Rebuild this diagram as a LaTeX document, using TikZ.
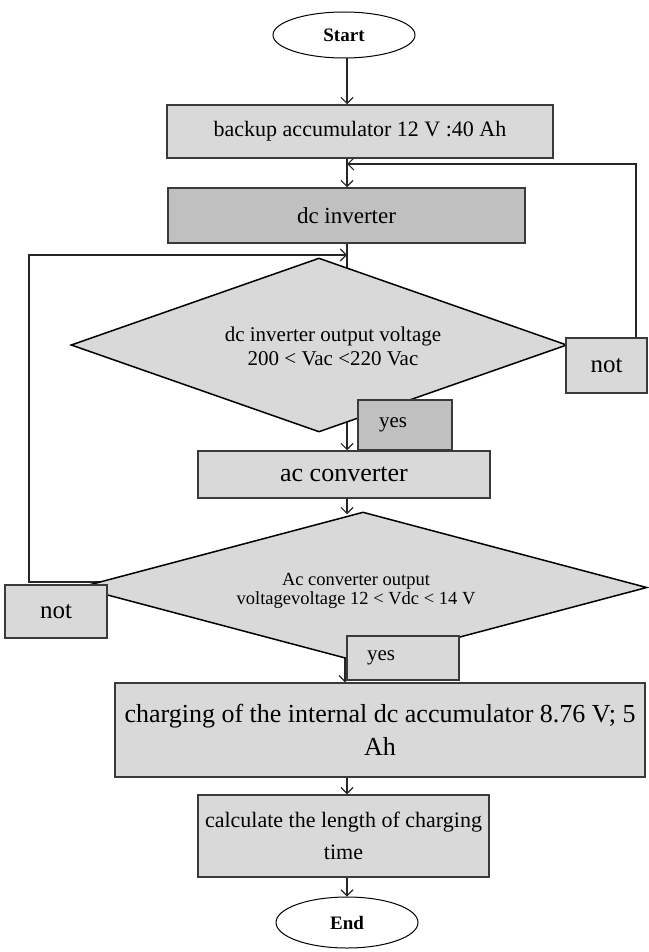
\documentclass[tikz,border=0pt]{standalone}
\usepackage{fontspec}
\setmainfont{Liberation Serif}
\usetikzlibrary{shapes.geometric,arrows.meta,calc}
\pgfdeclarelayer{bg}
\pgfsetlayers{bg,main}
\definecolor{lightg}{HTML}{D9D9D9}
\definecolor{darkg}{HTML}{C0C0C0}
\definecolor{edgec}{HTML}{3A3A3A}
\begin{document}
\begin{tikzpicture}[x=1pt,y=-1pt,
  box/.style={draw=edgec, line width=1.5pt, fill=lightg, rectangle, inner sep=0pt, align=center},
  dbox/.style={box, fill=darkg},
  dia/.style={draw=black, line width=1.5pt, fill=lightg, diamond, inner sep=0pt},
  term/.style={draw=black, line width=1pt, ellipse, fill=white, inner sep=0pt},
  arr/.style={draw=black!85, line width=1.1pt, -{Straight Barb[length=6pt,width=12pt]}},
  conn/.style={draw=black!85, line width=1.1pt},
  lab/.style={inner sep=0pt, align=center}]
\useasboundingbox (0,0) rectangle (648,952);
\coordinate (ax) at (347,0);
\coordinate (ax2) at (345,0);
\coordinate (fbR) at (636,164);
\coordinate (lpB) at (29,582);
\coordinate (lpT) at (29,255);

\node[term, minimum width=142pt, minimum height=46pt, font=\fontsize{19}{22}\selectfont\bfseries] (start) at (344,35) {Start};
\node[box, minimum width=386pt, minimum height=53pt, font=\fontsize{22}{26}\selectfont] (backup) at (360,131.5) {backup accumulator 12 V :40 Ah};
\node[dbox, minimum width=357pt, minimum height=55pt, font=\fontsize{23}{27}\selectfont] (dcinv) at (346.5,215.5) {dc inverter};
\node[dia, minimum width=496pt, minimum height=174pt] (d1) at (319,345) {};
\node[lab, font=\fontsize{21}{24}\selectfont] (d1t) at (333,346) {dc inverter output voltage\\200 < Vac <220 Vac};
\node[box, minimum width=81pt, minimum height=55pt, font=\fontsize{25}{30}\selectfont] (not1) at (606.5,365.5) {not};
\node[dbox, minimum width=94pt, minimum height=50pt, text width=52pt, inner xsep=21pt, align=left, font=\fontsize{21}{25}\selectfont] (yes1) at (405,425) {yes};
\node[box, minimum width=292pt, minimum height=47pt, font=\fontsize{26}{30}\selectfont] (ac) at (344,474.5) {ac converter};
\node[dia, minimum width=568pt, minimum height=151pt] (d2) at (363,587.5) {};
\node[lab, font=\fontsize{18.5}{19}\selectfont] (d2t) at (356,591) {Ac converter output\\voltagevoltage 12 < Vdc < 14 V};
\node[box, minimum width=102pt, minimum height=53pt, font=\fontsize{25}{30}\selectfont] (not2) at (56,611.5) {not};
\node[box, minimum width=112pt, minimum height=44pt, text width=72pt, inner xsep=20pt, align=left, font=\fontsize{21}{25}\selectfont] (yes2) at (403,658) {yes};
\node[box, minimum width=530pt, minimum height=94pt, font=\fontsize{26}{33}\selectfont] (charge) at (380,730) {charging of the internal dc accumulator 8.76 V; 5\\Ah};
\node[box, minimum width=291pt, minimum height=82pt, font=\fontsize{22}{32}\selectfont] (calc) at (343.5,836) {calculate the length of charging\\time};
\node[term, minimum width=142pt, minimum height=51pt, font=\fontsize{19}{22}\selectfont\bfseries] (end) at (347,922.5) {End};

\begin{pgfonlayer}{bg}
\draw[arr] (start.south -| ax) -- (backup.north -| ax);
\draw[arr] (backup.south -| ax) -- (dcinv.north -| ax);
\draw[conn] (dcinv.south -| ax) -- (d1.center -| ax);
\draw[arr] (d1.center -| ax) -- (ac.north -| ax);
\draw[arr] (ac.south -| ax) -- ([yshift=-3pt]d2.north -| ax);
\draw[arr] (d2.center -| ax2) -- (charge.north -| ax2);
\draw[arr] (charge.south -| ax) -- (calc.north -| ax);
\draw[arr] (calc.south -| ax) -- (end.north -| ax);
\draw[arr] (not1.north -| fbR) -- (fbR) -- (fbR -| ax);
\draw[arr] (d2.center |- lpB) -- (lpB) -- (lpT) -- (lpT -| ax);
\end{pgfonlayer}
\end{tikzpicture}
\end{document}
